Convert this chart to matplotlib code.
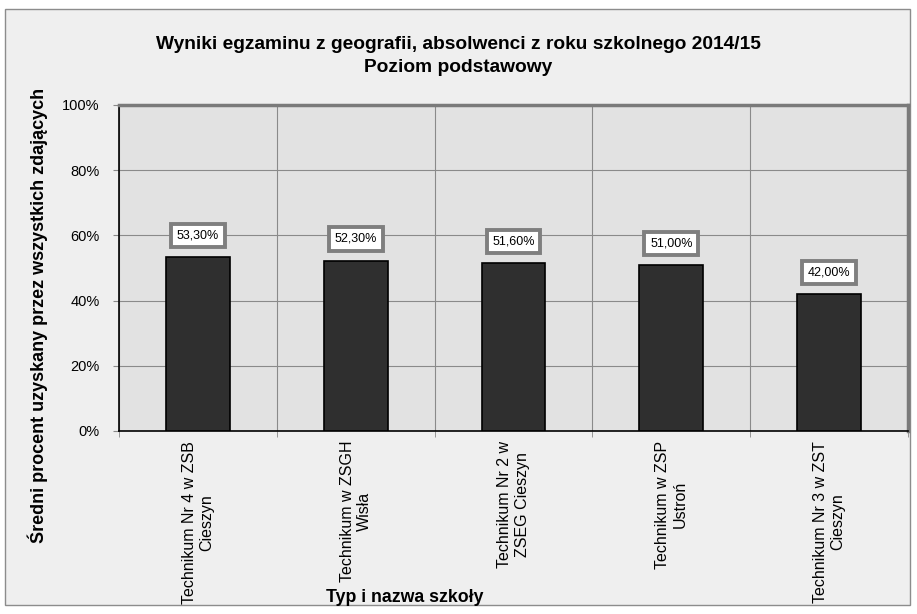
import matplotlib.pyplot as plt
from matplotlib.patches import Rectangle
from matplotlib.ticker import FixedLocator, PercentFormatter

schools = ["Technikum Nr 4 w ZSB\nCieszyn",
           "Technikum w ZSGH\nWisła",
           "Technikum Nr 2 w\nZSEG Cieszyn",
           "Technikum w ZSP\nUstroń",
           "Technikum Nr 3 w ZST\nCieszyn"]
scores = [53.3, 52.3, 51.6, 51.0, 42.0]
labels = ["53,30%", "52,30%", "51,60%", "51,00%", "42,00%"]
y_ticks = [0, 20, 40, 60, 80, 100]

plt.rcParams['font.family'] = ['Liberation Sans', 'DejaVu Sans']

fig = plt.figure(figsize=(9.17, 6.14), dpi=100)
fig.patch.set_facecolor('white')
# outer chart frame
fig.patches.append(Rectangle((5 / 917, 9 / 614), 905 / 917, 596 / 614, transform=fig.transFigure,
                             facecolor='#efefef', edgecolor='#8c8c8c', linewidth=1.0, zorder=-10))

ax = fig.add_axes([119 / 917, 1 - 431 / 614, 789 / 917, 326 / 614])
ax.set_facecolor('#e2e2e2')

x = range(len(scores))
ax.bar(x, scores, width=0.405, color='#2f2f2f', edgecolor='black', linewidth=1.2, zorder=3)

for i, (v, t) in enumerate(zip(scores, labels)):
    ax.annotate(t, (i, v), xytext=(0, 15.5), textcoords='offset points', ha='center', va='center',
                fontsize=9, zorder=5,
                bbox=dict(boxstyle='square,pad=0.45', facecolor='white', edgecolor='#7f7f7f', linewidth=2.8))

ax.set_xlim(-0.5, len(scores) - 0.5)
ax.set_ylim(0, 100)
ax.yaxis.set_major_locator(FixedLocator(y_ticks))
ax.yaxis.set_major_formatter(PercentFormatter(decimals=0))
ax.set_xticks(list(x))
ax.set_xticklabels(schools, rotation=90, fontsize=11.5, ha='center', va='top', multialignment='center')
ax.tick_params(axis='x', length=0, pad=7)
ax.set_xticks([i + 0.5 for i in range(-1, len(scores))], minor=True)
ax.tick_params(axis='x', which='minor', length=4, color='#888888')
ax.tick_params(axis='y', labelsize=10.5, length=4, pad=10, color='#888888')
ax.grid(axis='y', color='#8a8a8a', linewidth=0.8, zorder=1)
ax.grid(axis='x', which='minor', color='#8a8a8a', linewidth=0.8, zorder=1)
ax.set_axisbelow(True)

for s in ['left', 'bottom']:
    ax.spines[s].set_color('black')
    ax.spines[s].set_linewidth(1.2)
for s in ['top', 'right']:
    ax.spines[s].set_color('#7a7a7a')
    ax.spines[s].set_linewidth(2.5)

fig.text(38 / 917, 1 - 315 / 614, 'Średni procent uzyskany przez wszystkich zdających', rotation=90,
         ha='center', va='center', fontsize=13, fontweight='bold')
fig.text(405 / 917, 1 - 597 / 614, 'Typ i nazwa szkoły', ha='center', va='center',
         fontsize=12.8, fontweight='bold')
fig.text(0.5, 1 - 56 / 614, 'Wyniki egzaminu z geografii, absolwenci z roku szkolnego 2014/15\nPoziom podstawowy',
         ha='center', va='center', fontsize=13.8, fontweight='bold', linespacing=1.45)

plt.savefig('out.png', dpi=100)
